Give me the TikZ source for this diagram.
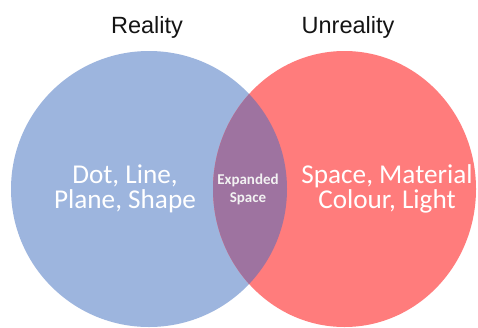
\documentclass[tikz,border=0pt]{standalone}
\usepackage{fontspec}
\setmainfont{Liberation Sans}
\newfontfamily\carlito{Carlito}
\definecolor{realblue}{RGB}{157,181,222}
\definecolor{unrealred}{RGB}{255,124,124}
\definecolor{lenspurple}{RGB}{158,115,160}
\definecolor{titlegray}{RGB}{20,20,20}
\begin{document}
\begin{tikzpicture}[x=1pt,y=-1pt,
  title/.style={font=\fontsize{23.5}{26}\selectfont, text=titlegray, anchor=base, inner sep=0pt},
  inside/.style={font=\carlito\fontsize{27.2}{25.5}\selectfont, text=white, align=center, inner sep=0pt},
  lens/.style={font=\carlito\bfseries\fontsize{15}{18}\selectfont, text=white!95!black, align=center, inner sep=0pt}]
\useasboundingbox (0,0) rectangle (478,327);
\fill[white] (0,0) rectangle (478,327);
% circles
\fill[realblue] (149,189) ellipse [x radius=138pt, y radius=138pt];
\fill[unrealred] (344.5,189) ellipse [x radius=131.5pt, y radius=138pt];
\begin{scope}
  \clip (149,189) ellipse [x radius=138pt, y radius=138pt];
  \fill[lenspurple] (344.5,189) ellipse [x radius=131.5pt, y radius=138pt];
\end{scope}
% titles
\node[title] (reality) at (147,33) {Reality};
\node[title] (unreality) at (348,33) {Unreality};
% texts
\node[inside] (left) at (125,189) {Dot, Line,\\Plane, Shape};
\node[inside] (right) at (387,189) {Space, Material\\Colour, Light};
\node[lens] (mid) at (248,189) {Expanded\\Space};
\end{tikzpicture}
\end{document}
